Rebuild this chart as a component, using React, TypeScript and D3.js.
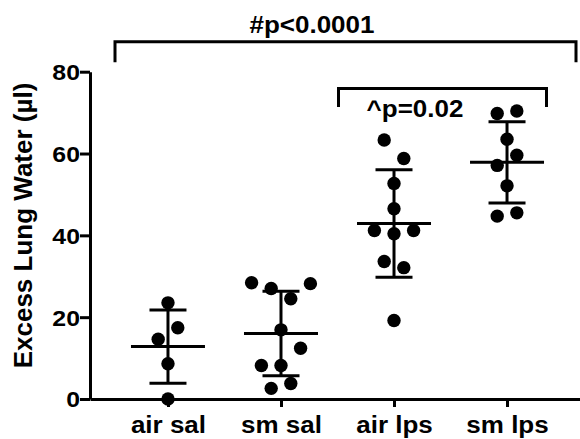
import * as d3 from 'd3';
import React, { useEffect, useRef } from 'react';

// groups on the x axis
const groups = ['air sal', 'sm sal', 'air lps', 'sm lps'];

// excess lung water (µl) per animal
const airSal = [23.5, 17.4, 14.6, 8.6, 0];
const smSal = [28.4, 27.0, 28.2, 24.5, 16.9, 12.4, 8.2, 8.2, 2.6, 3.8];
const airLps = [63.3, 58.8, 52.7, 46.5, 41.2, 40.4, 41.2, 33.6, 32.1, 19.2];
const smLps = [69.8, 70.4, 63.5, 59.6, 57.1, 52.1, 44.7, 45.5];

// dodge slot of each dot inside its column (scatter layout)
const airSalSlot = [0, 1, -1, 0, 0];
const smSalSlot = [-3, -1, 3, 1, 0, 2, -2, 0, -1, 1];
const airLpsSlot = [-1, 1, 0, 0, -2, 0, 2, -1, 1, 0];
const smLpsSlot = [-1, 1, 0, 1, -1, 0, -1, 1];

const yTicks = [0, 20, 40, 60, 80];
const yLabel = 'Excess Lung Water (µl)';
const overallLabel = '#p<0.0001';
const lpsLabel = '^p=0.02';

const App = () => {
    const d3Container = useRef(null);
    const width = 580;
    const height = 439;
    const font = '"Liberation Sans", Arial, sans-serif';
    const stretch = 'scale(1.13,1)';

    useEffect(() => {
        if (!d3Container.current) return;
        d3.select(d3Container.current).selectAll('*').remove();

        const svg = d3.select(d3Container.current)
            .append('svg')
            .attr('width', width)
            .attr('height', height)
            .style('position', 'absolute')
            .style('left', 0)
            .style('top', 0)
            .style('background', '#fff');

        const x = d3.scalePoint().domain(groups).range([90, 585]).padding(0.69);
        const y = d3.scaleLinear().domain([0, 80]).range([399, 71.7]);

        const series = [
            { name: groups[0], values: airSal, slots: airSalSlot },
            { name: groups[1], values: smSal, slots: smSalSlot },
            { name: groups[2], values: airLps, slots: airLpsSlot },
            { name: groups[3], values: smLps, slots: smLpsSlot },
        ];

        // axes
        const yAxis = svg.append('g')
            .attr('transform', 'translate(90,0)')
            .call(d3.axisLeft(y).tickValues(yTicks).tickSize(10).tickSizeOuter(0));
        const xAxis = svg.append('g')
            .attr('transform', 'translate(0,399)')
            .call(d3.axisBottom(x).tickSize(8).tickSizeOuter(0));

        [yAxis, xAxis].forEach(g => {
            g.selectAll('path, line').attr('stroke', '#000').attr('stroke-width', 3);
            g.selectAll('text')
                .attr('fill', '#000')
                .style('font-family', font)
                .style('font-weight', 'bold');
        });

        yAxis.selectAll('text')
            .attr('x', 0)
            .attr('dy', '0.36em')
            .attr('transform', `translate(-10,0) ${stretch}`)
            .style('font-size', '22px');

        xAxis.selectAll('text')
            .attr('y', 0)
            .attr('dy', 0)
            .attr('transform', `translate(0,34) ${stretch}`)
            .style('font-size', '23px');

        // mean ± SD bars
        series.forEach(s => {
            const cx = x(s.name);
            const m = d3.mean(s.values);
            const sd = d3.deviation(s.values);
            const g = svg.append('g').attr('stroke', '#000').attr('stroke-width', 3);
            g.append('line').attr('x1', cx).attr('x2', cx).attr('y1', y(m + sd)).attr('y2', y(m - sd));
            g.append('line').attr('x1', cx - 37).attr('x2', cx + 37).attr('y1', y(m)).attr('y2', y(m));
            [m + sd, m - sd].forEach(v => {
                g.append('line').attr('x1', cx - 18.5).attr('x2', cx + 18.5).attr('y1', y(v)).attr('y2', y(v));
            });
        });

        // dots
        series.forEach(s => {
            svg.append('g')
                .selectAll('circle')
                .data(s.values)
                .enter().append('circle')
                .attr('cx', (d, i) => x(s.name) + s.slots[i] * 9.8)
                .attr('cy', d => y(d))
                .attr('r', 6.7)
                .attr('fill', '#000');
        });

        // significance brackets
        const bracket = (x0, x1, top, bottom) => {
            svg.append('path')
                .attr('d', `M${x0},${y(bottom)}V${y(top)}H${x1}V${y(bottom)}`)
                .attr('fill', 'none')
                .attr('stroke', '#000')
                .attr('stroke-width', 3);
        };
        bracket(115, 576, 87.3, 82.3);
        bracket(338.5, 546.5, 75.9, 71.4);

        const note = (tx, ty, label) => {
            svg.append('text')
                .attr('transform', `translate(${tx},${ty}) ${stretch}`)
                .attr('text-anchor', 'middle')
                .attr('fill', '#000')
                .style('font-family', font)
                .style('font-weight', 'bold')
                .style('font-size', '23px')
                .text(label);
        };
        note(312, 32.5, overallLabel);
        note(415, 116.7, lpsLabel);

        // y label
        svg.append('text')
            .attr('transform', 'translate(31.5,225.5) rotate(-90)')
            .attr('text-anchor', 'middle')
            .attr('fill', '#000')
            .style('font-family', font)
            .style('font-weight', 'bold')
            .style('font-size', '26px')
            .text(yLabel);
    }, []);

    return (
        <div ref={d3Container} />
    );
};

export default App;
